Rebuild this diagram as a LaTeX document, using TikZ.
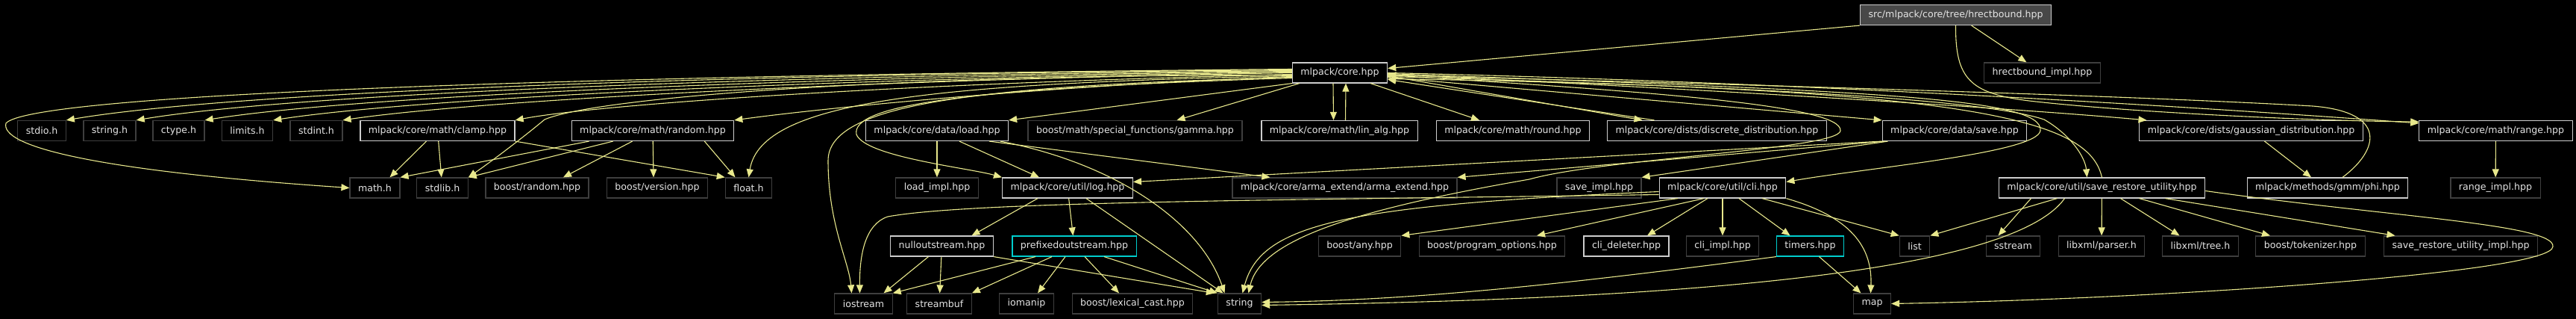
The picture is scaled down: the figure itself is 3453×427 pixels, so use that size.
\documentclass[tikz,border=0pt]{standalone}
\usepackage{fontspec}
\setmainfont{DejaVu Sans}
\usetikzlibrary{arrows.meta}
\definecolor{edgecol}{RGB}{232,232,140}
\definecolor{boxline}{RGB}{205,205,205}
\definecolor{sysline}{RGB}{62,62,62}
\definecolor{curline}{RGB}{0,205,205}
\definecolor{rootfill}{RGB}{72,72,72}
\begin{document}
\begin{tikzpicture}[x=1pt,y=-1pt,
  file/.style={draw=boxline,fill=black,text=white!90!black,line width=1.2pt,minimum height=27pt,inner xsep=11pt,inner ysep=0pt,font=\fontsize{12.6}{15}\selectfont},
  sysfile/.style={file,draw=sysline},
  curfile/.style={file,draw=curline},
  rootfile/.style={file,fill=rootfill},
  inc/.style={edgecol,line width=1.1pt,-{Triangle[length=11pt,width=9pt]}}]
  \useasboundingbox (0,0) rectangle (3453,427);
  \fill[black] (0,0) rectangle (3453,427);

  \node[rootfile] (root) at (2621.5,20) {src/mlpack/core/tree/hrectbound.hpp};
  \node[file] (core) at (1796,97.5) {mlpack/core.hpp};
  \node[sysfile] (rimpl) at (2737.5,97.5) {hrectbound\_impl.hpp};

  \node[sysfile] (stdio) at (56,175) {stdio.h};
  \node[sysfile] (stringh) at (147,175) {string.h};
  \node[sysfile] (ctype) at (239.5,175) {ctype.h};
  \node[sysfile] (limits) at (331.5,175) {limits.h};
  \node[sysfile] (stdint) at (424,175) {stdint.h};
  \node[file] (clamp) at (586.5,175) {mlpack/core/math/clamp.hpp};
  \node[file] (random) at (875,175) {mlpack/core/math/random.hpp};
  \node[file] (load) at (1256,175) {mlpack/core/data/load.hpp};
  \node[sysfile] (gamma) at (1521.5,175) {boost/math/special\_functions/gamma.hpp};
  \node[file] (linalg) at (1795.5,175) {mlpack/core/math/lin\_alg.hpp};
  \node[file] (round) at (2028,175) {mlpack/core/math/round.hpp};
  \node[file] (discrete) at (2301.5,175) {mlpack/core/dists/discrete\_distribution.hpp};
  \node[file] (save) at (2620,175) {mlpack/core/data/save.hpp};
  \node[file] (gaussian) at (3017.5,175) {mlpack/core/dists/gaussian\_distribution.hpp};
  \node[file] (range) at (3345.5,175) {mlpack/core/math/range.hpp};

  \node[sysfile] (mathh) at (502.5,251.5) {math.h};
  \node[sysfile] (stdlib) at (593,251.5) {stdlib.h};
  \node[sysfile] (brandom) at (720,251.5) {boost/random.hpp};
  \node[sysfile] (bversion) at (881,251.5) {boost/version.hpp};
  \node[sysfile] (floath) at (1003.5,251.5) {float.h};
  \node[sysfile] (loadimpl) at (1256,251.5) {load\_impl.hpp};
  \node[file] (log) at (1431,251.5) {mlpack/core/util/log.hpp};
  \node[sysfile] (armaext) at (1802.5,251.5) {mlpack/core/arma\_extend/arma\_extend.hpp};
  \node[sysfile] (saveimpl) at (2143.5,251.5) {save\_impl.hpp};
  \node[file] (cli) at (2309,251.5) {mlpack/core/util/cli.hpp};
  \node[file] (sru) at (2817.5,251.5) {mlpack/core/util/save\_restore\_utility.hpp};
  \node[file] (phi) at (3120,251.5) {mlpack/methods/gmm/phi.hpp};
  \node[sysfile] (rangeimpl) at (3345,251.5) {range\_impl.hpp};

  \node[file] (nullout) at (1262.5,329.5) {nulloutstream.hpp};
  \node[curfile] (prefout) at (1440,329.5) {prefixedoutstream.hpp};
  \node[sysfile] (bany) at (1822.5,329.5) {boost/any.hpp};
  \node[sysfile] (bpo) at (2000,329.5) {boost/program\_options.hpp};
  \node[file] (clidel) at (2180,329.5) {cli\_deleter.hpp};
  \node[sysfile] (cliimpl) at (2309,329.5) {cli\_impl.hpp};
  \node[curfile] (timers) at (2426.5,329.5) {timers.hpp};
  \node[sysfile] (list) at (2566.5,329.5) {list};
  \node[sysfile] (sstream) at (2698.5,329.5) {sstream};
  \node[sysfile] (xmlparser) at (2817,329.5) {libxml/parser.h};
  \node[sysfile] (xmltree) at (2949.5,329.5) {libxml/tree.h};
  \node[sysfile] (tokenizer) at (3097,329.5) {boost/tokenizer.hpp};
  \node[sysfile] (sruimpl) at (3298.5,329.5) {save\_restore\_utility\_impl.hpp};

  \node[sysfile] (iostream) at (1157.5,406.5) {iostream};
  \node[sysfile] (streambuf) at (1259,406.5) {streambuf};
  \node[sysfile] (iomanip) at (1376,406.5) {iomanip};
  \node[sysfile] (lexcast) at (1518,406.5) {boost/lexical\_cast.hpp};
  \node[sysfile] (string) at (1661.5,406.5) {string};
  \node[sysfile] (map) at (2509.5,406.5) {map};

  \draw[inc] (root.south west) -- ([yshift=6pt]core.east);
  \draw[inc] (root) -- (rimpl);
  \draw[inc] (root.south) .. controls (2621,105) and (2640,125) .. (2720,135) .. controls (2850,150) and (3100,162) .. ([yshift=12pt]range.west);

  \draw[inc] ([yshift=4pt]core.west) .. controls (900,100) and (300,125) .. (stdio.north east);
  \draw[inc] ([yshift=3pt]core.west) .. controls (950,102) and (380,128) .. (stringh.north east);
  \draw[inc] ([yshift=2pt]core.west) .. controls (1000,104) and (460,131) .. (ctype.north east);
  \draw[inc] ([yshift=1pt]core.west) .. controls (1050,106) and (540,134) .. (limits.north east);
  \draw[inc] (core.west) .. controls (1100,108) and (620,137) .. (stdint.north east);
  \draw[inc] ([yshift=5pt]core.west) .. controls (700,102) and (40,128) .. (8,165) .. controls (0,195) and (120,228) .. (mathh.west);
  \draw[inc] ([yshift=-2pt]core.west) .. controls (1200,112) and (800,140) .. (clamp.north east);
  \draw[inc] ([yshift=-3pt]core.west) .. controls (1200,100) and (800,130) .. (730,160) .. controls (700,185) and (660,215) .. (stdlib.north east);
  \draw[inc] ([yshift=-5pt]core.west) .. controls (1400,115) and (1100,145) .. (random.north east);
  \draw[inc] ([yshift=-4pt]core.west) .. controls (1250,112) and (1020,135) .. (floath.north);
  \draw[inc] ([yshift=-6pt]core.west) .. controls (1300,115) and (1110,140) .. (1110,215) .. controls (1110,300) and (1138,350) .. ([xshift=-16pt]iostream.north);
  \draw[inc] ([yshift=-7pt]core.west) .. controls (1300,118) and (1140,140) .. (1148,180) .. controls (1160,210) and (1300,225) .. (log.north west);
  \draw[inc] (core.south west) -- (load.north east);
  \draw[inc] ([xshift=10pt]core.south west) -- ([xshift=56pt]gamma.north);

  \draw[inc] ([xshift=-9pt]core.south) -- ([xshift=-8pt]linalg.north);
  \draw[inc] ([xshift=8pt]linalg.north) -- ([xshift=8pt]core.south);
  \draw[inc] ([xshift=-23pt]core.south east) -- ([xshift=-45pt]round.north);
  \draw[inc] ([yshift=-4pt]core.east) -- ([xshift=-100pt]discrete.north);
  \draw[inc] ([xshift=-84pt]discrete.north) -- ([yshift=-9pt]core.east);
  \draw[inc] ([yshift=-6pt]core.east) -- (save.north west);
  \draw[inc] ([yshift=-2pt]core.east) .. controls (2300,120) and (2700,145) .. ([xshift=-140pt]gaussian.north);
  \draw[inc] (core.east) .. controls (2400,110) and (2900,140) .. ([yshift=10pt]range.west);
  \draw[inc] ([yshift=-1pt]core.east) .. controls (2500,122) and (2740,130) .. (2735,175) .. controls (2730,205) and (2500,225) .. ([yshift=8pt]cli.east);
  \draw[inc] ([yshift=-3pt]core.east) .. controls (2200,122) and (2470,140) .. (2467,175) .. controls (2464,200) and (2150,212) .. (2050,240) .. controls (1820,280) and (1690,320) .. ([xshift=12pt]string.north);
  \draw[inc] ([yshift=-5pt]core.east) .. controls (2300,115) and (2650,130) .. (2740,160) .. controls (2775,180) and (2795,210) .. ([xshift=-20pt]sru.north);
  \draw[inc] (sru.north) .. controls (2800,160) and (2650,118) .. ([yshift=-8pt]core.east);
  \draw[inc] ([xshift=20pt]phi.north) .. controls (3190,200) and (3200,150) .. (3100,142) .. controls (2800,125) and (2200,110) .. ([yshift=-3pt]core.east);

  \draw[inc] ([xshift=-15pt]clamp.south) -- ([xshift=20pt]mathh.north);
  \draw[inc] (clamp) -- (stdlib);
  \draw[inc] (clamp.south east) -- (floath.north west);
  \draw[inc] ([xshift=24pt]random.south west) -- (mathh.north east);
  \draw[inc] ([xshift=56pt]random.south west) -- (stdlib.north east);
  \draw[inc] ([xshift=82pt]random.south west) -- ([xshift=35pt]brandom.north);
  \draw[inc] (random) -- ([xshift=-5pt]bversion.north);
  \draw[inc] ([xshift=-40pt]random.south east) -- ([xshift=-18pt]floath.north);

  \draw[inc] (load) -- (loadimpl);
  \draw[inc] ([xshift=30pt]load.south) -- ([xshift=-38pt]log.north);
  \draw[inc] ([xshift=70pt]load.south) -- ([xshift=-100pt]armaext.north);
  \draw[inc] ([xshift=85pt]load.south) .. controls (1500,220) and (1610,300) .. ([xshift=-20pt]string.north);

  \draw[inc] (save.south west) -- ([yshift=8pt]log.east);
  \draw[inc] ([xshift=4pt]save.south west) -- (armaext.north east);
  \draw[inc] ([xshift=8pt]save.south west) -- (saveimpl.north east);

  \draw[inc] ([xshift=-40pt]log.south) -- ([xshift=40pt]nullout.north);
  \draw[inc] (log) -- (prefout);
  \draw[inc] ([xshift=25pt]log.south) -- ([xshift=-22pt]string.north);

  \draw[inc] ([xshift=-18pt]nullout.south) -- ([xshift=27pt]iostream.north);
  \draw[inc] (nullout) -- (streambuf);
  \draw[inc] (nullout.south east) -- ([xshift=-4pt]string.north west);
  \draw[inc] ([xshift=-52pt]prefout.south) -- (iostream.north east);
  \draw[inc] ([xshift=-30pt]prefout.south) -- (streambuf.north east);
  \draw[inc] ([xshift=-12pt]prefout.south) -- ([xshift=15pt]iomanip.north);
  \draw[inc] ([xshift=14pt]prefout.south) -- ([xshift=-18pt]lexcast.north);
  \draw[inc] ([xshift=40pt]prefout.south) -- (string.north west);

  \draw[inc] ([xshift=-60pt]cli.south) -- (bany.north east);
  \draw[inc] ([xshift=-25pt]cli.south) -- ([xshift=60pt]bpo.north);
  \draw[inc] ([xshift=-20pt]cli.south) -- ([xshift=28pt]clidel.north);
  \draw[inc] (cli) -- (cliimpl);
  \draw[inc] ([xshift=22pt]cli.south) -- ([xshift=-27pt]timers.north);
  \draw[inc] ([xshift=53pt]cli.south) -- (list.north west);
  \draw[inc] (cli.south east) .. controls (2480,290) and (2510,330) .. ([xshift=-2pt]map.north);
  \draw[inc] ([yshift=-5pt]cli.west) .. controls (1800,275) and (1690,300) .. ([xshift=4pt]string.north);
  \draw[inc] ([yshift=-9pt]cli.west) .. controls (1700,268) and (1300,270) .. (1190,290) .. controls (1160,300) and (1152,340) .. ([xshift=-5pt]iostream.north);

  \draw[inc] ([xshift=12pt]timers.south) -- ([xshift=-15pt]map.north);
  \draw[inc] (timers.south west) .. controls (2100,380) and (1900,402) .. ([yshift=2pt]string.east);

  \draw[inc] ([xshift=-95pt]sru.south) -- ([xshift=-20pt]sstream.north);
  \draw[inc] (sru) -- (xmlparser);
  \draw[inc] ([xshift=25pt]sru.south) -- ([xshift=-28pt]xmltree.north);
  \draw[inc] ([xshift=50pt]sru.south) -- ([xshift=-54pt]tokenizer.north);
  \draw[inc] ([xshift=85pt]sru.south) -- ([xshift=-88pt]sruimpl.north);
  \draw[inc] ([xshift=-60pt]sru.south) -- (list.north east);
  \draw[inc] ([xshift=-50pt]sru.south) .. controls (2700,360) and (2300,400) .. ([yshift=-2pt]string.east);
  \draw[inc] ([yshift=-4pt]sru.east) .. controls (3200,290) and (3425,300) .. (3422,330) .. controls (3422,365) and (2900,400) .. (map.east);

  \draw[inc] ([xshift=18pt]gaussian.south) -- ([xshift=-22pt]phi.north);
  \draw[inc] (range) -- (rangeimpl);
\end{tikzpicture}
\end{document}
